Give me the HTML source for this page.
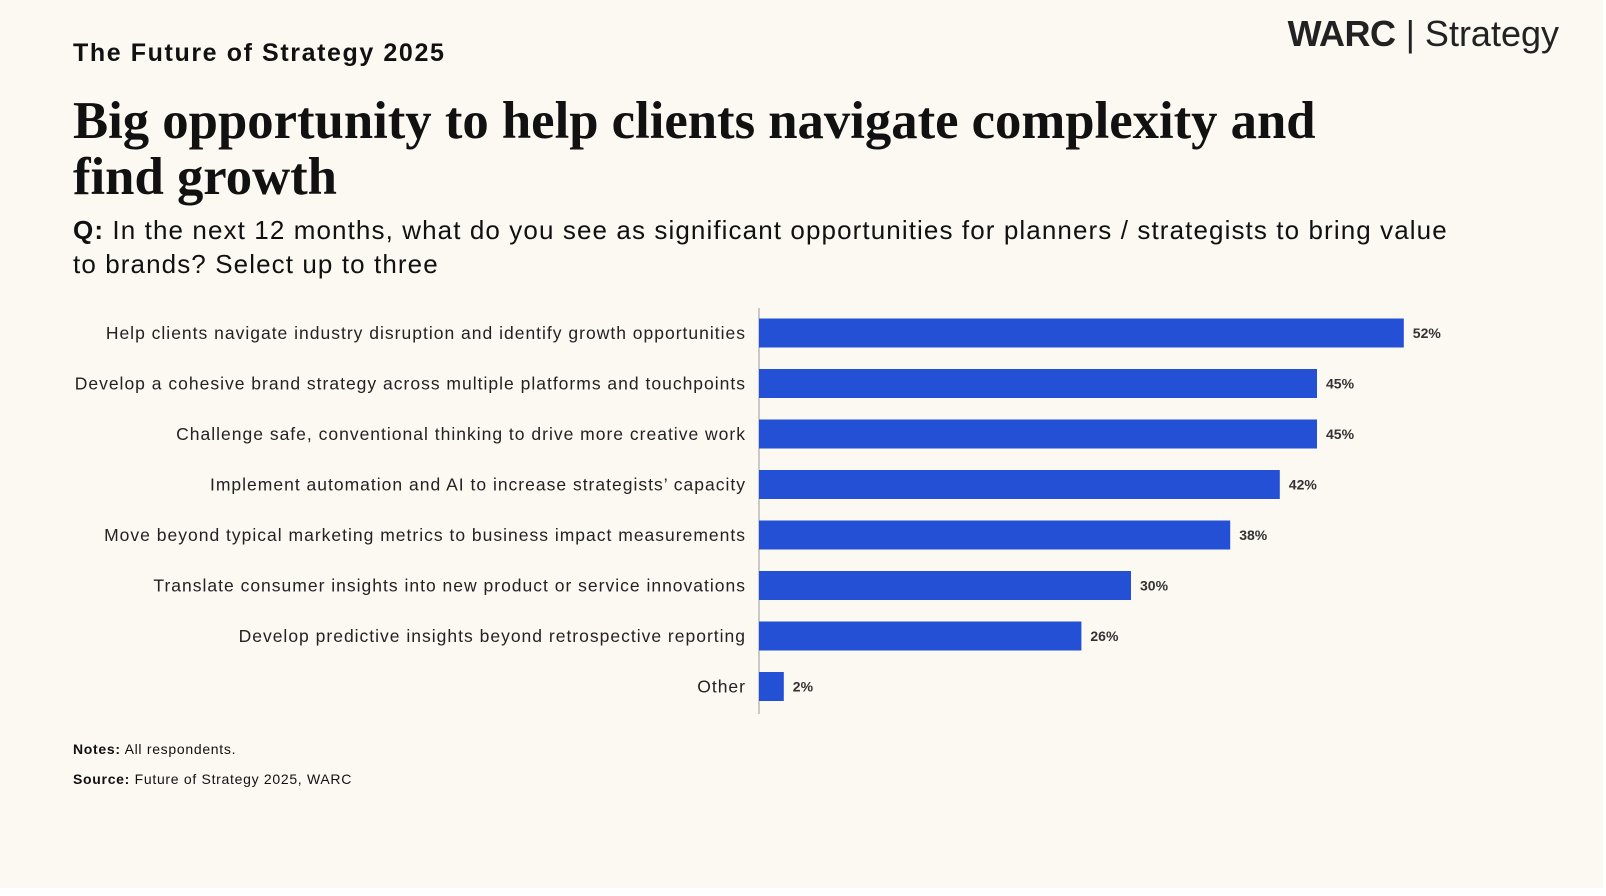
<!DOCTYPE html>
<html><head><meta charset="utf-8">
<style>
body{margin:0;background:#fff;}
#page{position:absolute;left:0;top:0;width:1603px;height:888px;background:#fcf8f2;font-family:"Liberation Sans",sans-serif;color:#111;}
.t{position:absolute;white-space:nowrap;}
</style></head><body>
<div id="page">
<div class="t" style="right:44px;top:13px;font-size:36px;color:#222;"><b style="letter-spacing:-0.5px">WARC</b> <span style="font-weight:300">| Strategy</span></div>
<div class="t" style="left:73px;top:39px;font-size:25px;font-weight:bold;letter-spacing:1.6px;">The Future of Strategy 2025</div>
<div class="t" style="left:73px;top:93px;font-family:'Liberation Serif',serif;font-weight:bold;font-size:52.7px;line-height:56px;">Big opportunity to help clients navigate complexity and<br>find growth</div>
<div class="t" style="left:73px;top:213px;font-size:26px;line-height:34px;letter-spacing:1.1px;"><b>Q:</b> In the next 12 months, what do you see as significant opportunities for planners / strategists to bring value<br>to brands? Select up to three</div>
<svg id="chart" width="1603" height="888" style="position:absolute;left:0;top:0"></svg>
<div class="t" style="left:73px;top:741px;font-size:14px;letter-spacing:0.7px;"><b>Notes:</b> All respondents.</div>
<div class="t" style="left:73px;top:771px;font-size:14px;letter-spacing:0.7px;"><b>Source:</b> Future of Strategy 2025, WARC</div>
</div>
<script>
const categories=["Help clients navigate industry disruption and identify growth opportunities","Develop a cohesive brand strategy across multiple platforms and touchpoints","Challenge safe, conventional thinking to drive more creative work","Implement automation and AI to increase strategists’ capacity","Move beyond typical marketing metrics to business impact measurements","Translate consumer insights into new product or service innovations","Develop predictive insights beyond retrospective reporting","Other"];
const values=[52,45,45,42,38,30,26,2];
const valueLabels=["52%","45%","45%","42%","38%","30%","26%","2%"];
const svg=document.getElementById('chart');
const NS='http://www.w3.org/2000/svg';
const x0=759,pxPer=12.4,y0=333,step=50.5,bh=29;
const xs=v=>x0+v*pxPer, ys=i=>y0+i*step;
const ax=document.createElementNS(NS,'line');
ax.setAttribute('x1',x0);ax.setAttribute('x2',x0);ax.setAttribute('y1',308);ax.setAttribute('y2',714);
ax.setAttribute('stroke','#bbb');ax.setAttribute('stroke-width','1.5');


svg.appendChild(ax);
categories.forEach((c,i)=>{
 const r=document.createElementNS(NS,'rect');
 r.setAttribute('x',x0);r.setAttribute('y',ys(i)-bh/2);r.setAttribute('width',xs(values[i])-x0);r.setAttribute('height',bh);r.setAttribute('fill','#2450d6');
 
 
 svg.appendChild(r);
 const t=document.createElementNS(NS,'text');
 t.setAttribute('x',x0-13);t.setAttribute('y',ys(i)+6);t.setAttribute('text-anchor','end');
 t.setAttribute('font-family','Liberation Sans, sans-serif');t.setAttribute('font-size','17.5');t.setAttribute('fill','#222');
 t.setAttribute('letter-spacing','1');
 t.textContent=c;
 
 
 svg.appendChild(t);
 const v=document.createElementNS(NS,'text');
 v.setAttribute('x',xs(values[i])+9);v.setAttribute('y',ys(i)+5);
 v.setAttribute('font-family','Liberation Sans, sans-serif');v.setAttribute('font-size','14');v.setAttribute('font-weight','bold');v.setAttribute('fill','#333');
 v.textContent=valueLabels[i];
 
 
 svg.appendChild(v);
});
</script>
</body></html>
